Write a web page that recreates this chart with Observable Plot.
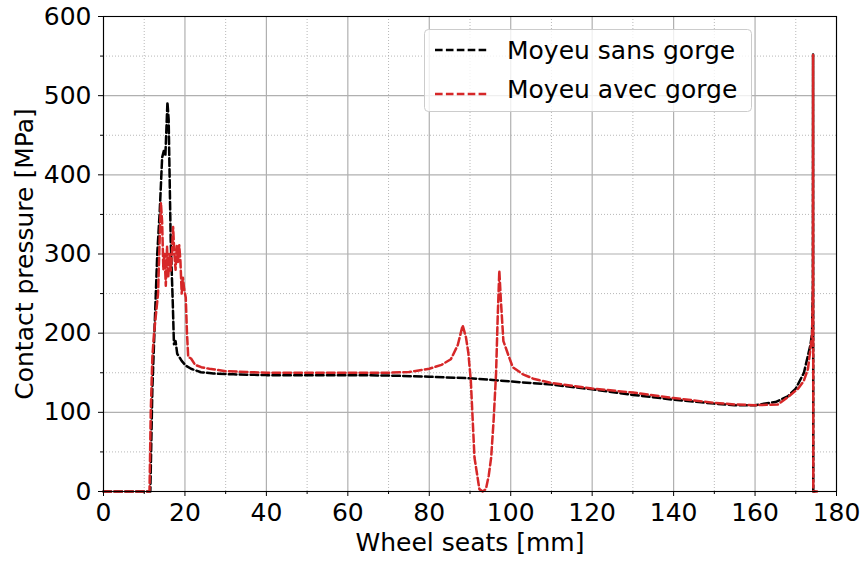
<!DOCTYPE html>
<html>
<head>
<meta charset="utf-8">
<script src="https://cdn.jsdelivr.net/npm/d3@7"></script>
<script src="https://cdn.jsdelivr.net/npm/@observablehq/plot@0.6"></script>
<style>
  body { margin: 0; background: white; }
  #wrap { position: relative; width: 862px; height: 561px; font-family: "DejaVu Sans", sans-serif; }
  #legend { position: absolute; left: 0; top: 0; pointer-events: none; }
</style>
</head>
<body>
<div id="wrap"></div>
<script>
// ---- data ----
const seriesNames = ["Moyeu sans gorge", "Moyeu avec gorge"];
const seriesColors = ["#000000", "#d62728"];

const sansX = [0, 11.5, 12.0, 12.5, 13.2, 13.8, 14.4, 14.8, 15.2, 15.7, 16.0, 16.5, 17.0, 17.3, 17.7, 18.1, 18.6, 19.2, 20.2, 21.5, 23.9, 27, 32, 40, 50, 60, 70, 80, 90, 100, 110, 120, 130, 140, 150, 155, 160, 165, 168, 170, 172, 173, 173.6, 174.0, 174.2, 174.25, 174.3, 175.2];
const sansY = [0, 0, 130, 200, 300, 353, 422, 430, 425, 492, 470, 317, 240, 186, 190, 174, 170, 165, 159, 155, 150.7, 149, 148, 147, 147, 147, 146.5, 145, 143, 139, 135, 129, 122, 116, 111, 109, 109, 113, 120, 130, 150, 172, 185, 200, 260, 552, 0, 0];

const avecX = [0, 11.3, 11.6, 12.0, 12.4, 13.0, 13.4, 13.8, 14.1, 14.4, 14.7, 15.0, 15.3, 15.6, 15.9, 16.2, 16.5, 16.8, 17.1, 17.4, 17.7, 18.0, 18.3, 18.6, 18.9, 19.2, 19.5, 19.8, 20.2, 20.5, 20.8, 21.5, 22.5, 24, 26, 30, 35, 40, 50, 60, 70, 75, 80, 83, 85.3, 87, 88.2, 89.0, 89.6, 90.2, 91.1, 92.3, 93.1, 93.9, 94.6, 95.2, 95.8, 96.4, 96.8, 97.2, 97.6, 98.2, 99.3, 100.5, 103, 105.8, 110, 117.3, 120, 130, 140, 150, 155, 160, 165.6, 168, 170.6, 172, 173, 173.6, 174.0, 174.2, 174.25, 174.3, 175.2];
const avecY = [0, 0, 100, 170, 199, 230, 250, 320, 365, 340, 280, 300, 260, 310, 270, 300, 279, 300, 334, 300, 280, 310, 290, 311, 290, 250, 270, 256, 245, 200, 170, 168, 160, 157, 155, 152, 151, 150, 150, 150, 150, 151, 155, 160, 167, 185, 210, 195, 175, 140, 43, 3, 0, 3, 20, 43, 90, 149, 220, 279, 240, 190, 174, 157, 148, 142, 137, 132, 130, 125, 118, 112, 110, 109, 110, 119, 130, 140, 155, 180, 197, 260, 552, 0, 0];

const xMajor = [0, 20, 40, 60, 80, 100, 120, 140, 160, 180];
const xMinor = [10, 30, 50, 70, 90, 110, 130, 150, 170];
const yMajor = [0, 100, 200, 300, 400, 500, 600];
const yMinor = [50, 150, 250, 350, 450, 550];
const xLabel = "Wheel seats [mm]";
const yLabel = "Contact pressure [MPa]";

// ---- build ----
const sans = sansX.map((x, i) => ({x, y: sansY[i]}));
const avec = avecX.map((x, i) => ({x, y: avecY[i]}));

const gridColor = "#b0b0b0";
const dash = "7.6,3.3";
const lw = 2.5;

const chart = Plot.plot({
  width: 862, height: 561,
  marginLeft: 103, marginRight: 26, marginTop: 16, marginBottom: 70,
  style: {fontFamily: "DejaVu Sans, sans-serif", fontSize: "25px", color: "black", background: "white", overflow: "visible"},
  x: {domain: [0, 180]},
  y: {domain: [0, 600]},
  marks: [
    Plot.gridX(xMinor, {stroke: gridColor, strokeOpacity: 1, strokeWidth: 0.9, strokeDasharray: "1,2"}),
    Plot.gridY(yMinor, {stroke: gridColor, strokeOpacity: 1, strokeWidth: 0.9, strokeDasharray: "1,2"}),
    Plot.gridX(xMajor, {stroke: gridColor, strokeOpacity: 1, strokeWidth: 1.2}),
    Plot.gridY(yMajor, {stroke: gridColor, strokeOpacity: 1, strokeWidth: 1.2}),
    Plot.line(sans, {x: "x", y: "y", stroke: seriesColors[0], strokeWidth: lw, strokeDasharray: dash, curve: "linear"}),
    Plot.line(avec, {x: "x", y: "y", stroke: seriesColors[1], strokeWidth: lw, strokeDasharray: dash, curve: "linear"}),
    Plot.frame({stroke: "black", strokeWidth: 1.1}),
    Plot.axisX(xMajor, {tickSize: 5, tickPadding: 7, label: null, tickFormat: d => String(d), stroke: "black"}),
    Plot.axisX(xMinor, {tickSize: 3, label: null, tickFormat: () => "", stroke: "black"}),
    Plot.axisY(yMajor, {tickSize: 5, tickPadding: 7, label: null, tickFormat: d => String(d), stroke: "black"}),
    Plot.axisY(yMinor, {tickSize: 3, label: null, tickFormat: () => "", stroke: "black"}),
    Plot.text([xLabel], {frameAnchor: "bottom", lineAnchor: "middle", textAnchor: "middle", dy: 51.5, text: d => d, fill: "black", fontSize: 25}),
    Plot.text([yLabel], {frameAnchor: "left", lineAnchor: "middle", textAnchor: "middle", dx: -79, rotate: -90, text: d => d, fill: "black", fontSize: 25})
  ]
});

const wrap = document.getElementById("wrap");
wrap.appendChild(chart);

// legend overlay (real text)
const ns = "http://www.w3.org/2000/svg";
const leg = document.createElementNS(ns, "svg");
leg.setAttribute("id", "legend");
leg.setAttribute("width", 862);
leg.setAttribute("height", 561);
const box = document.createElementNS(ns, "rect");
box.setAttribute("x", 424.5); box.setAttribute("y", 29.5);
box.setAttribute("width", 327); box.setAttribute("height", 82);
box.setAttribute("rx", 4); box.setAttribute("ry", 4);
box.setAttribute("fill", "white"); box.setAttribute("fill-opacity", 0.8);
box.setAttribute("stroke", "#cccccc"); box.setAttribute("stroke-width", 1);
leg.appendChild(box);
const rows = [{ly: 50, ty: 59}, {ly: 94, ty: 98}];
seriesNames.forEach((name, i) => {
  const l = document.createElementNS(ns, "line");
  l.setAttribute("x1", 435); l.setAttribute("x2", 487);
  l.setAttribute("y1", rows[i].ly); l.setAttribute("y2", rows[i].ly);
  l.setAttribute("stroke", seriesColors[i]); l.setAttribute("stroke-width", lw);
  l.setAttribute("stroke-dasharray", dash);
  leg.appendChild(l);
  const t = document.createElementNS(ns, "text");
  t.setAttribute("x", 507); t.setAttribute("y", rows[i].ty);
  t.setAttribute("font-family", "DejaVu Sans, sans-serif");
  t.setAttribute("font-size", 25);
  t.setAttribute("fill", "black");
  t.textContent = name;
  leg.appendChild(t);
});
wrap.appendChild(leg);
</script>
</body>
</html>
